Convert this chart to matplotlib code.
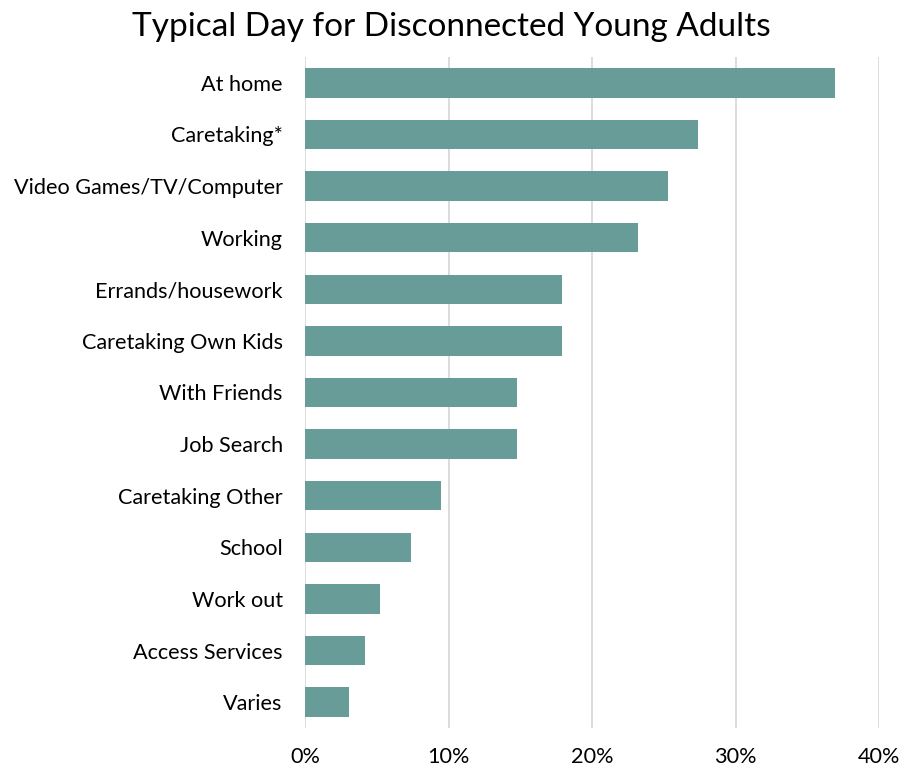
import matplotlib.pyplot as plt
from matplotlib.ticker import PercentFormatter

categorias = [
    "At home", "Caretaking*", "Video Games/TV/Computer", "Working",
    "Errands/housework", "Caretaking Own Kids", "With Friends", "Job Search",
    "Caretaking Other", "School", "Work out", "Access Services", "Varies",
]
valores = [36.9, 27.4, 25.3, 23.2, 17.9, 17.9, 14.8, 14.8, 9.5, 7.4, 5.2, 4.2, 3.1]
ticks = [0, 10, 20, 30, 40]

plt.rcParams["font.family"] = ["Lato", "DejaVu Sans"]

fig = plt.figure(figsize=(9.02, 7.71), dpi=100)
ax = fig.add_axes([305 / 902, 1 - 728 / 771, 574 / 902, (728 - 57) / 771])

y = list(range(len(categorias)))
ax.barh(y, valores, height=0.57, color="#679c98", zorder=3)
ax.set_yticks(y)
ax.set_yticklabels(categorias, fontsize=15.6)
ax.set_ylim(len(categorias) - 0.5, -0.5)
ax.set_xlim(0, 40)
ax.set_xticks(ticks)
ax.xaxis.set_major_formatter(PercentFormatter(decimals=0))
ax.tick_params(axis="x", labelsize=15.6, length=0, pad=14)
ax.tick_params(axis="y", length=0, pad=16)
ax.grid(axis="x", color="#d9d9d9", linewidth=1.3, zorder=0)
for s in ax.spines.values():
    s.set_visible(False)

fig.suptitle("Typical Day for Disconnected Young Adults", fontsize=24, y=0.985)

fig.savefig("out.png", dpi=100)
